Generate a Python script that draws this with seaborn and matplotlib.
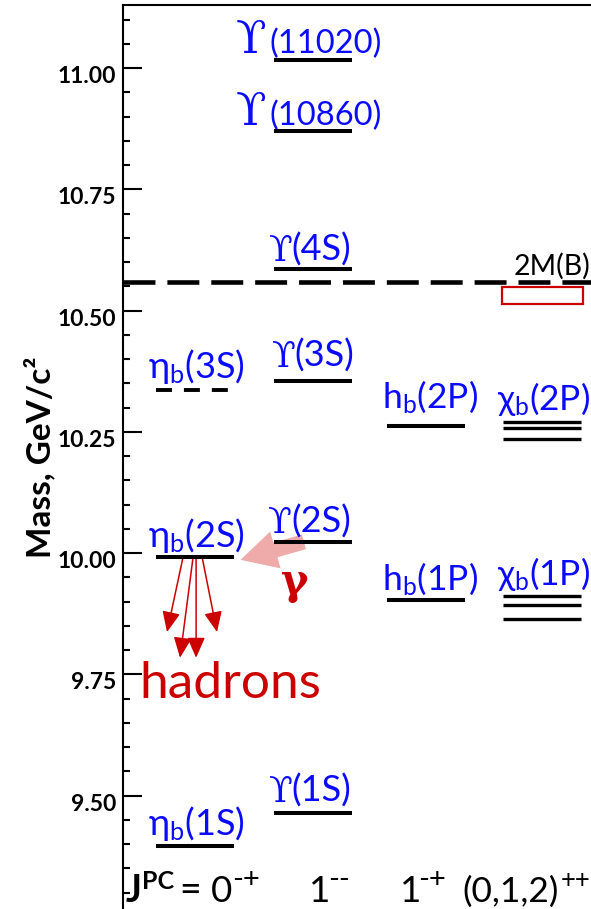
import matplotlib
matplotlib.use("Agg")
import matplotlib.pyplot as plt
import matplotlib.transforms as mtransforms
from matplotlib.patches import FancyArrowPatch, Rectangle
from matplotlib.ticker import MultipleLocator
import numpy as np
import pandas as pd
import seaborn as sns

# ---------------- bottomonium levels (GeV/c^2) ----------------
eta_states = ["1S", "2S", "3S"]
eta_masses = [9.396, 9.992, 10.336]
ups_states = ["1S", "2S", "3S", "4S", "10860", "11020"]
ups_masses = [9.464, 10.023, 10.355, 10.586, 10.870, 11.016]
hb_states = ["1P", "2P"]
hb_masses = [9.903, 10.262]
chib_states = ["1P", "2P"]
chib1p_masses = [9.863, 9.893, 9.912]
chib2p_masses = [10.235, 10.257, 10.271]
bb_threshold = 10.559
threshold_band = [10.513, 10.548]
mass_ticks = [9.50, 9.75, 10.00, 10.25, 10.50, 10.75, 11.00]
jpc_spin = ["0", "1", "1", "(0,1,2)"]
jpc_pc = ["-+", "--", "-+", "++"]

# ---------------- layout ----------------
col_center = [-0.03, 1.00, 1.98, 2.99]
half_w = 0.34
x_lim = (-0.657, 3.417)
y_lim = (9.266, 11.130)
jpc_y = 9.280
# horizontal pixel offsets of the quantum-number row from the y axis
jpc_head_dx = {"J": 3.5, "PC": 20, "=": 57}
jpc_spin_dx = [88, 186, 277, 340]
jpc_spin_fs = [26.5, 26.5, 26.5, 25.5]
jpc_pc_dx = [110, 206, 296, 438]
jpc_pc_fs = [21, 21, 21, 18.5]

BLUE = "#0a0aff"
RED = "#cc0000"
PINK = "#efaaaa"

sns.set_theme(style="white")
plt.rcParams["font.family"] = ["Lato", "DejaVu Sans"]
plt.rcParams["mathtext.fontset"] = "custom"
plt.rcParams["mathtext.rm"] = "Lato"
plt.rcParams["mathtext.it"] = "Lato:italic"
plt.rcParams["mathtext.bf"] = "Lato:bold"
plt.rcParams["mathtext.default"] = "regular"
plt.rcParams["lines.scale_dashes"] = False
plt.rcParams["lines.solid_capstyle"] = "butt"
for key in ["text.color", "axes.labelcolor", "ytick.color", "xtick.color",
            "axes.edgecolor"]:
    plt.rcParams[key] = "black"

W, H = 591, 909
fig = plt.figure(figsize=(W / 100, H / 100), dpi=100)
ax = fig.add_axes([122.5 / W, 0.0, 1 - 122.5 / W, 1 - 5 / H])

# ---------------- level table ----------------
rows = []
for s, m in zip(eta_states, eta_masses):
    rows.append(dict(level=f"eta_b({s})", mass=m, col=0,
                     kind="dashed" if s == "3S" else "solid"))
for s, m in zip(ups_states, ups_masses):
    rows.append(dict(level=f"Y({s})", mass=m, col=1, kind="solid"))
for s, m in zip(hb_states, hb_masses):
    rows.append(dict(level=f"h_b({s})", mass=m, col=2, kind="solid"))
for s, ms in zip(chib_states, [chib1p_masses, chib2p_masses]):
    for j, m in enumerate(ms):
        rows.append(dict(level=f"chi_b{j}({s})", mass=m, col=3, kind="thin"))
levels = pd.DataFrame(rows)

seg = pd.concat([
    levels.assign(x=levels["col"].map(lambda c: col_center[c] - half_w)),
    levels.assign(x=levels["col"].map(lambda c: col_center[c] + half_w)),
]).sort_values(["level", "x"])

for kind, lw, ls in [("solid", 2.9, "-"), ("thin", 2.4, "-"),
                     ("dashed", 2.8, (0, (11.5, 8.6)))]:
    sub = seg[seg["kind"] == kind]
    sns.lineplot(data=sub, x="x", y="mass", units="level", estimator=None,
                 sort=False, color="black", lw=lw, linestyle=ls,
                 legend=False, ax=ax, zorder=4)

# open-bottom threshold and its band
ax.axhline(bb_threshold, color="black", lw=3.3, linestyle=(0, (23, 8.6)),
           zorder=3)
ax.add_patch(Rectangle((col_center[3] - half_w - 0.01, threshold_band[0]),
                       2 * half_w + 0.03,
                       threshold_band[1] - threshold_band[0],
                       fill=False, ec=RED, lw=1.6, zorder=3))

# ---------------- axes ----------------
ax.set_xlim(*x_lim)
ax.set_ylim(*y_lim)
ax.set_xticks([])
ax.set_xlabel("")
ax.set_yticks(mass_ticks, labels=[f"{t:.2f}" for t in mass_ticks],
              fontweight="bold", fontsize=16.5, color="black")
ax.yaxis.set_minor_locator(MultipleLocator(0.05))
ax.tick_params(axis="y", which="major", direction="in", length=13.7,
               width=1.5, pad=4.5, left=True, color="black")
ax.tick_params(axis="y", which="minor", direction="in", length=5,
               width=1.5, left=True, color="black")
shift = mtransforms.ScaledTranslation(0, -6.5 / 100, fig.dpi_scale_trans)
for lab in ax.get_yticklabels():
    lab.set_transform(lab.get_transform() + shift)
for side in ["right", "bottom"]:
    ax.spines[side].set_visible(False)
for side in ["left", "top"]:
    ax.spines[side].set_linewidth(1.5)
    ax.spines[side].set_color("black")
ax.set_ylabel("Mass, GeV/c²", fontsize=24, fontweight="bold", va="center",
              color="black")
ax.yaxis.set_label_coords(-0.178, 0.5)


def put(text, anchor, offset, **kw):
    kw.setdefault("ha", "left")
    kw.setdefault("va", "baseline")
    ax.annotate(text, xy=anchor, xytext=offset, textcoords="offset pixels",
                annotation_clip=False, **kw)


# ---------------- state labels ----------------
eta_off = {"1S": (-8, 11), "2S": (-8, 10), "3S": (-8, 12)}
for s, m in zip(eta_states, eta_masses):
    put(rf"$\eta_{{b}}$({s})", (col_center[0] - half_w, m), eta_off[s],
        color=BLUE, fontsize=26)

# (glyph dx, label dx, dy, glyph size, label size)
ups_off = {"11020": (-38, -4, 7, 32, 23.5),
           "10860": (-38, -4, 6, 32, 23.5),
           "4S": (-5, 17, 8, 25, 26), "3S": (-2, 20, 14, 25, 26),
           "2S": (-6, 17, 9, 25, 26), "1S": (-5, 17, 11, 25, 26)}
for s, m in zip(ups_states, ups_masses):
    dxs, dxp, dy, fs_g, fs_t = ups_off[s]
    anchor = (col_center[1] - half_w, m)
    put("ϒ", anchor, (dxs, dy), color=BLUE, fontsize=fs_g,
        family=["DejaVu Serif", "DejaVu Sans"])
    put(f"({s})", anchor, (dxp, dy), color=BLUE, fontsize=fs_t)

hb_off = {"1P": (-5, 10), "2P": (-5, 18)}
for s, m in zip(hb_states, hb_masses):
    put(rf"$h_{{b}}$({s})", (col_center[2] - half_w, m), hb_off[s],
        color=BLUE, fontsize=25.5)

chi_off = {"1P": (-6, 11), "2P": (-6, 12)}
for s, ms in zip(chib_states, [chib1p_masses, chib2p_masses]):
    put(rf"$\chi_{{b}}$({s})", (col_center[3] - half_w, max(ms)), chi_off[s],
        color=BLUE, fontsize=25.5)

put("2M(B)", (col_center[3] - half_w, bb_threshold), (11, 7),
    color="black", fontsize=20.5)

# ---------------- transitions ----------------
eta2s = eta_masses[eta_states.index("2S")]
ups2s = ups_masses[ups_states.index("2S")]
ax.add_patch(FancyArrowPatch(
    posA=(col_center[1] - half_w + 0.26, ups2s),
    posB=(col_center[0] + half_w + 0.06, eta2s - 0.006),
    arrowstyle="simple,head_length=1.0,head_width=1.06,tail_width=0.42",
    mutation_scale=26, color=PINK, lw=0, shrinkA=0, shrinkB=0, zorder=2))
put("γ", (col_center[1] - half_w, ups2s), (21, -40), color=RED,
    fontsize=30, fontweight="bold", ha="center", va="center",
    family=["DejaVu Serif", "DejaVu Sans"])

hadron_start_x = [-0.130, -0.043, -0.017, 0.035]
hadron_tip = [(-0.270, 9.837), (-0.157, 9.784), (-0.017, 9.784), (0.165, 9.837)]
for x0, (x1, y1) in zip(hadron_start_x, hadron_tip):
    ax.add_patch(FancyArrowPatch(
        posA=(x0, eta2s), posB=(x1, y1),
        arrowstyle="-|>,head_length=12.5,head_width=5.5", mutation_scale=1,
        color=RED, lw=1.1, shrinkA=0, shrinkB=0, zorder=3))
put("hadrons", (col_center[0] - half_w, eta2s), (-16, -141), color=RED,
    fontsize=37)

# ---------------- quantum numbers ----------------
row_anchor = (x_lim[0], jpc_y)
put("J", row_anchor, (jpc_head_dx["J"], 0), fontsize=27, fontweight="bold",
    color="black")
put("PC", row_anchor, (jpc_head_dx["PC"], 13), fontsize=18,
    fontweight="bold", color="black")
put("=", row_anchor, (jpc_head_dx["="], 0), fontsize=27, color="black")
for dx_s, fs_s, dx_p, fs_p, spin, pc in zip(jpc_spin_dx, jpc_spin_fs,
                                            jpc_pc_dx, jpc_pc_fs,
                                            jpc_spin, jpc_pc):
    put(spin, row_anchor, (dx_s, 0), fontsize=fs_s, color="black")
    put(pc, row_anchor, (dx_p, 14), fontsize=fs_p, color="black")

fig.savefig("out.png", dpi=100)
